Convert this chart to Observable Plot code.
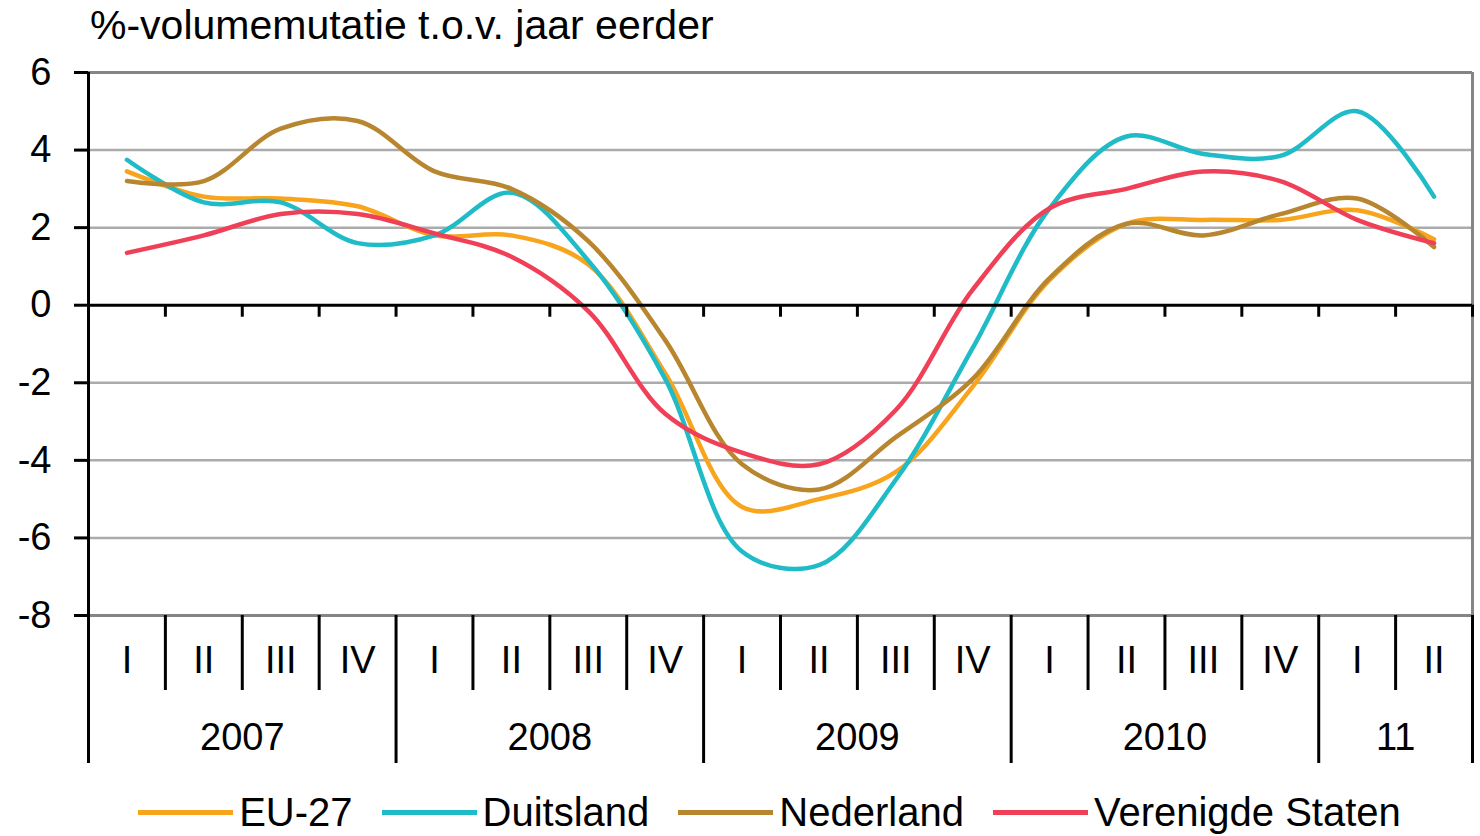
<!DOCTYPE html>
<html>
<head>
<meta charset="utf-8">
<script src="https://cdn.jsdelivr.net/npm/d3@7"></script>
<script src="https://cdn.jsdelivr.net/npm/@observablehq/plot@0.6"></script>
<style>
  html, body { margin: 0; padding: 0; background: #fff; }
  body { width: 1480px; height: 836px; overflow: hidden; font-family: "Liberation Sans", Arial, sans-serif; color: #000; }
  #title { height: 60px; box-sizing: border-box; padding-top: 5px; padding-left: 90px; font-size: 41px; line-height: 1; white-space: nowrap; }
  #legend { height: 66px; box-sizing: border-box; padding-top: 18px; display: flex; justify-content: center; align-items: center; gap: 29px; font-size: 40px; line-height: 1; padding-left: 59px; }
  .item { display: flex; align-items: center; white-space: nowrap; }
  .sw { width: 95px; height: 5px; margin-right: 6px; }
  svg { display: block; }
</style>
</head>
<body>
<div id="title">%-volumemutatie t.o.v. jaar eerder</div>
<div id="chart"></div>
<div id="legend"></div>
<script>
// ---- data ----
const quarterLabels = ["I","II","III","IV","I","II","III","IV","I","II","III","IV","I","II","III","IV","I","II"];
const yearLabels = ["2007","2008","2009","2010","11"];
const yearQuarterCounts = [4, 4, 4, 4, 2];
const seriesNames = ["EU-27", "Duitsland", "Nederland", "Verenigde Staten"];
const seriesColors = ["#F8A51D", "#1FBBC6", "#B98630", "#EF4058"];
const eu27      = [3.45, 2.8, 2.75, 2.55, 1.8, 1.8, 1.05, -1.75, -5.2, -5.0, -4.3, -2.1, 0.65, 2.1, 2.2, 2.2, 2.45, 1.7];
const duitsland = [3.75, 2.65, 2.65, 1.6, 1.8, 2.9, 1.15, -1.9, -6.35, -6.7, -4.5, -1.1, 2.5, 4.35, 3.9, 3.85, 5.0, 2.8];
const nederland = [3.2, 3.2, 4.55, 4.75, 3.45, 3.0, 1.65, -0.9, -4.1, -4.75, -3.4, -1.9, 0.7, 2.1, 1.8, 2.35, 2.75, 1.5];
const vs        = [1.35, 1.8, 2.35, 2.35, 1.85, 1.25, -0.15, -2.8, -3.8, -4.1, -2.7, 0.4, 2.5, 3.0, 3.45, 3.2, 2.2, 1.6];
const yTicks = [6, 4, 2, 0, -2, -4, -6, -8];
const gridValues = [4, 2, -2, -4, -6];

// ---- derived tables ----
const allSeries = [eu27, duitsland, nederland, vs];
const rows = [];
allSeries.forEach((vals, s) => vals.forEach((v, i) => rows.push({i, v, s: seriesNames[s]})));
const quarters = quarterLabels.map((q, i) => ({i, q}));
const years = [];
const yearBounds = [-0.5];
let start = 0;
yearLabels.forEach((y, k) => {
  const n = yearQuarterCounts[k];
  years.push({c: start + (n - 1) / 2, y});
  start += n;
  yearBounds.push(start - 0.5);
});
const allBounds = d3.range(1, quarterLabels.length + 1).map(i => i - 0.5);
const quarterOnlyBounds = allBounds.filter(b => !yearBounds.includes(b));
const FS = 38;
const font = '"Liberation Sans", Arial, sans-serif';

const chart = Plot.plot({
  width: 1480,
  height: 710,
  marginTop: 12,
  marginBottom: 155,
  marginLeft: 88,
  marginRight: 8,
  style: {fontFamily: font, fontSize: FS + "px", background: "#fff", color: "#000", overflow: "visible"},
  x: {domain: [-0.5, quarterLabels.length - 0.5], axis: null},
  y: {domain: [-8, 6], axis: null},
  color: {domain: seriesNames, range: seriesColors},
  marks: [
    Plot.ruleY(gridValues, {stroke: "#ABABAB", strokeWidth: 2.5}),
    Plot.ruleY([6, -8], {stroke: "#858585", strokeWidth: 3}),
    Plot.ruleX([quarterLabels.length - 0.5], {y1: -8, y2: 6, stroke: "#858585", strokeWidth: 3}),
    Plot.line(rows, {x: "i", y: "v", stroke: "s", z: "s", strokeWidth: 4.5, curve: "catmull-rom", strokeLinejoin: "round"}),
    Plot.ruleY([0], {stroke: "#000", strokeWidth: 3}),
    Plot.ruleX(allBounds, {y1: 0, y2: 0, insetBottom: -12, stroke: "#000", strokeWidth: 3}),
    Plot.ruleX(quarterOnlyBounds, {y1: -8, y2: -8, insetBottom: -75, stroke: "#000", strokeWidth: 3}),
    Plot.ruleX(yearBounds, {y1: -8, y2: -8, insetBottom: -148, stroke: "#000", strokeWidth: 3}),
    Plot.ruleX([-0.5], {y1: 6, y2: -8, stroke: "#000", strokeWidth: 3}),
    Plot.axisY({ticks: yTicks, label: null, tickSize: 14, tickPadding: 23, tickFormat: d => String(d), stroke: "#000", strokeWidth: 3, fontSize: FS, fill: "#000"}),
    Plot.text(quarters, {x: "i", y: () => -8, text: "q", dy: 45, fontSize: FS, fill: "#000"}),
    Plot.text(years, {x: "c", y: () => -8, text: "y", dy: 122, fontSize: FS, fill: "#000"})
  ]
});
document.getElementById("chart").appendChild(chart);

const legend = document.getElementById("legend");
seriesNames.forEach((n, k) => {
  const it = document.createElement("div");
  it.className = "item";
  const sw = document.createElement("div");
  sw.className = "sw";
  sw.style.background = seriesColors[k];
  const t = document.createElement("span");
  t.textContent = n;
  it.appendChild(sw);
  it.appendChild(t);
  legend.appendChild(it);
});
</script>
</body>
</html>
